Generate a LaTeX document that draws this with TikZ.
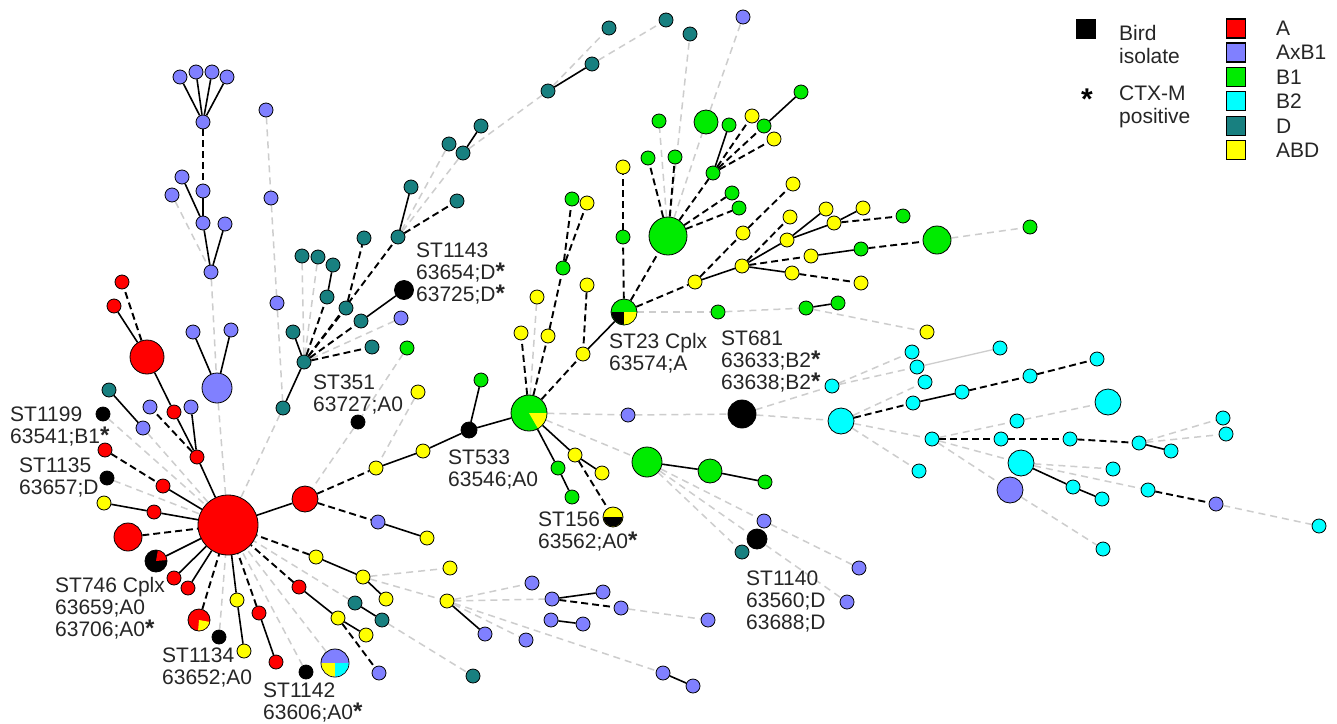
\documentclass[tikz,border=0pt]{standalone}
\usepackage{fontspec}
\setmainfont{Liberation Sans}
\usetikzlibrary{backgrounds}

\definecolor{cA}{RGB}{255,0,0}
\definecolor{cAB}{RGB}{128,128,255}
\definecolor{cBone}{RGB}{0,235,0}
\definecolor{cBtwo}{RGB}{0,255,255}
\definecolor{cD}{RGB}{24,128,128}
\definecolor{cY}{RGB}{255,255,0}
\definecolor{edgegray}{RGB}{205,205,205}

\newcommand{\ctxmark}{\smash{\fontsize{24}{20}\selectfont\bfseries *}}
% filled wedge inside a pie node: colour, node, start, end, radius
\newcommand{\pieslice}[5]{\fill[#1] (#2.center) -- ++(#3:#5) arc[start angle=#3, end angle=#4, radius=#5] -- cycle;}

\tikzset{
  st/.style={circle, draw=black, line width=0.8pt, inner sep=0pt, minimum size=14pt},
  nA/.style={st, fill=cA},
  nAB/.style={st, fill=cAB},
  nBo/.style={st, fill=cBone},
  nBt/.style={st, fill=cBtwo},
  nD/.style={st, fill=cD},
  nY/.style={st, fill=cY},
  nK/.style={st, fill=black},
  sl/.style={line width=1.6pt, black},
  dl/.style={line width=1.9pt, black, dash pattern=on 7pt off 4pt},
  gl/.style={line width=1.5pt, edgegray, dash pattern=on 7pt off 5pt},
  gsl/.style={line width=1.3pt, edgegray},
  lbl/.style={anchor=north west, inner sep=0pt, align=left, text=black!85,
              font=\fontsize{21}{22}\selectfont},
  legsq/.style={draw=black, line width=1.2pt, inner sep=0pt, minimum size=19pt},
  legtx/.style={anchor=west, inner sep=0pt, text=black!85, font=\fontsize{21}{23}\selectfont},
}

\begin{document}
\begin{tikzpicture}[x=1pt, y=-1pt]
\useasboundingbox (0,0) rectangle (1337,723);

% ---------------- AxB1 branch (upper left)
\node[nAB] (a1) at (180,77) {};
\node[nAB] (a2) at (196,72) {};
\node[nAB] (a3) at (212,72) {};
\node[nAB] (a4) at (227,77) {};
\node[nAB] (a5) at (203,122) {};
\node[nAB] (a6) at (203,191) {};
\node[nAB] (a7) at (182,177) {};
\node[nAB] (a8) at (172,195) {};
\node[nAB] (a9) at (203,223) {};
\node[nAB] (a10) at (225,224) {};
\node[nAB] (a11) at (211,272) {};
\node[nAB, minimum size=30pt] (a12) at (217,388) {};
\node[nAB] (a13) at (193,332) {};
\node[nAB] (a14) at (231,330) {};
\node[nAB] (a15) at (266,110) {};
\node[nAB] (a16) at (271,198) {};
\node[nAB] (a17) at (277,303) {};

% ---------------- A cluster round the main hub
\node[nA] (r1) at (122,282) {};
\node[nA] (r2) at (114,306) {};
\node[nA, minimum size=34pt] (r3) at (147,357) {};
\node[nA] (r4) at (174,412) {};
\node[nA] (r5) at (197,457) {};
\node[nAB] (a18) at (150,407) {};
\node[nAB] (a19) at (191,407) {};
\node[nD] (t1) at (109,390) {};
\node[nAB] (a20) at (143,428) {};
\node[nK] (k1) at (103,414) {};
\node[nA] (r6) at (105,450) {};
\node[nK] (k2) at (107,478) {};
\node[nA] (r7) at (163,486) {};
\node[nY] (y1) at (104,503) {};
\node[nA] (r8) at (154,512) {};
\node[nA, minimum size=60pt] (H) at (228,525) {};
\node[nA, minimum size=28pt] (r9) at (128,537) {};
\node[nK, minimum size=22pt] (p746) at (156,561) {};
\node[nA] (r10) at (174,578) {};
\node[nA] (r11) at (188,588) {};
\node[nA, minimum size=22pt] (pRY) at (199,620) {};
\node[nK] (k3) at (219,637) {};
\node[nY] (y2) at (237,600) {};
\node[nY] (y3) at (244,651) {};
\node[nA] (r12) at (259,613) {};
\node[nA] (r13) at (276,662) {};
\node[nK] (k4) at (306,672) {};
\node[nAB, minimum size=28pt] (pAYC) at (335,663) {};
\node[nA, minimum size=26pt] (r14) at (305,499) {};
\node[nY] (y4) at (316,557) {};
\node[nA] (r15) at (299,587) {};
\node[nY] (y5) at (338,618) {};
\node[nY] (y6) at (366,635) {};
\node[nAB] (a21) at (379,673) {};
\node[nD] (t2) at (355,603) {};
\node[nD] (t3) at (382,620) {};
\node[nY] (y7) at (363,577) {};
\node[nY] (y8) at (386,599) {};
\node[nAB] (a22) at (378,522) {};
\node[nY] (y9) at (427,538) {};
\node[nY] (y10) at (450,568) {};
\node[nY] (y11) at (447,601) {};
\node[nAB] (a23) at (485,634) {};
\node[nD] (t4) at (473,676) {};
\node[nAB] (a24) at (532,583) {};
\node[nAB] (a25) at (552,599) {};
\node[nAB] (a26) at (603,592) {};
\node[nAB] (a27) at (621,608) {};
\node[nAB] (a28) at (551,620) {};
\node[nAB] (a29) at (583,624) {};
\node[nAB] (a30) at (526,640) {};
\node[nAB] (a31) at (663,673) {};
\node[nAB] (a32) at (693,686) {};
\node[nAB] (a33) at (708,620) {};

% ---------------- D cluster
\node[nD] (t5) at (283,408) {};
\node[nD] (th) at (304,362) {};
\node[nD] (t6) at (293,332) {};
\node[nD] (t7) at (302,256) {};
\node[nD] (t8) at (318,257) {};
\node[nD] (t9) at (333,265) {};
\node[nD] (t10) at (327,297) {};
\node[nD] (t11) at (346,308) {};
\node[nD] (t12) at (361,321) {};
\node[nD] (t13) at (372,347) {};
\node[nK, minimum size=19pt] (k5) at (404,290) {};
\node[nAB] (a34) at (401,318) {};
\node[nD] (t14) at (364,238) {};
\node[nD] (t15) at (398,237) {};
\node[nD] (t16) at (411,187) {};
\node[nD] (t17) at (457,201) {};
\node[nD] (t18) at (449,144) {};
\node[nD] (t19) at (463,153) {};
\node[nD] (t20) at (481,126) {};
\node[nD] (t21) at (548,91) {};
\node[nD] (t22) at (592,64) {};
\node[nD] (t23) at (609,28) {};
\node[nD] (t24) at (666,20) {};
\node[nD] (t25) at (690,34) {};
\node[nAB] (a36) at (743,17) {};

% ---------------- centre: ST533 / B1 hub
\node[nBo] (g1) at (407,348) {};
\node[nY] (y12) at (418,392) {};
\node[nK] (k6) at (358,422) {};
\node[nBo] (g2) at (481,380) {};
\node[nK, minimum size=16pt] (k7) at (469,430) {};
\node[nY] (y13) at (423,451) {};
\node[nY] (y14) at (376,468) {};
\node[nBo, minimum size=36pt] (GH) at (529,413) {};
\node[nY] (y15) at (537,297) {};
\node[nBo] (g3) at (563,268) {};
\node[nY] (y16) at (587,285) {};
\node[nY] (y17) at (521,333) {};
\node[nY] (y18) at (548,336) {};
\node[nY] (y19) at (583,354) {};
\node[nBo] (g4) at (572,199) {};
\node[nY] (y20) at (587,203) {};
\node[nBo, minimum size=26pt] (p23) at (624,312) {};
\node[nBo] (g5) at (623,237) {};
\node[nY] (y21) at (623,167) {};
\node[nAB] (a35) at (628,415) {};
\node[nBo, minimum size=30pt] (g6) at (647,462) {};
\node[nY] (y22) at (575,455) {};
\node[nY] (y23) at (602,473) {};
\node[nBo] (g7) at (558,468) {};
\node[nBo] (g8) at (572,497) {};
\node[nY, minimum size=20pt] (p156) at (613,517) {};

% ---------------- B1 / ABD (upper right)
\node[nBo, minimum size=38pt] (BG) at (668,236) {};
\node[nBo] (g9) at (659,121) {};
\node[nBo] (g10) at (648,158) {};
\node[nBo] (g11) at (675,157) {};
\node[nBo, minimum size=24pt] (g12) at (706,122) {};
\node[nBo] (g13) at (713,173) {};
\node[nBo] (g14) at (729,125) {};
\node[nY] (y24) at (752,116) {};
\node[nBo] (g15) at (764,126) {};
\node[nBo] (g16) at (801,92) {};
\node[nY] (y25) at (774,139) {};
\node[nBo] (g17) at (732,193) {};
\node[nBo] (g18) at (739,208) {};
\node[nY] (y26) at (793,184) {};
\node[nY] (y27) at (743,233) {};
\node[nY] (y28) at (695,282) {};
\node[nY] (y29) at (742,266) {};
\node[nY] (y30) at (790,217) {};
\node[nY] (y31) at (787,240) {};
\node[nY] (y32) at (826,209) {};
\node[nY] (y33) at (834,223) {};
\node[nY] (y34) at (863,208) {};
\node[nBo] (g19) at (903,216) {};
\node[nY] (y35) at (811,256) {};
\node[nBo] (g20) at (861,249) {};
\node[nBo, minimum size=28pt] (g21) at (937,240) {};
\node[nBo] (g22) at (1030,227) {};
\node[nY] (y36) at (792,273) {};
\node[nY] (y37) at (861,283) {};
\node[nBo] (g23) at (718,312) {};
\node[nBo] (g24) at (806,308) {};
\node[nBo] (g25) at (838,303) {};
\node[nY] (y38) at (927,332) {};

% ---------------- B2 cluster (right)
\node[nK, minimum size=28pt] (k8) at (742,414) {};
\node[nBt] (c1) at (832,386) {};
\node[nBt] (c2) at (912,352) {};
\node[nBt] (c3) at (917,367) {};
\node[nBt] (c4) at (925,382) {};
\node[nBt] (c5) at (1000,348) {};
\node[nBt, minimum size=26pt] (C1) at (841,421) {};
\node[nBt] (c6) at (913,403) {};
\node[nBt] (c7) at (962,392) {};
\node[nBt] (c8) at (1030,376) {};
\node[nBt] (c9) at (1097,359) {};
\node[nBt, minimum size=26pt] (C2) at (1108,402) {};
\node[nBt] (c10) at (1017,421) {};
\node[nBt] (c11) at (932,439) {};
\node[nBt] (c12) at (1001,439) {};
\node[nBt] (c13) at (1070,439) {};
\node[nBt] (c14) at (1139,443) {};
\node[nBt] (c15) at (1171,451) {};
\node[nBt] (c16) at (1223,418) {};
\node[nBt] (c17) at (1226,434) {};
\node[nBt] (c18) at (919,471) {};
\node[nBt, minimum size=26pt] (C3) at (1021,463) {};
\node[nBt] (c19) at (1113,469) {};
\node[nBt] (c20) at (1073,487) {};
\node[nBt] (c21) at (1102,499) {};
\node[nBt] (c22) at (1148,490) {};
\node[nAB] (a37) at (1216,504) {};
\node[nBt] (c23) at (1319,526) {};
\node[nAB, minimum size=26pt] (A2) at (1010,490) {};
\node[nBt] (c24) at (1103,549) {};
\node[nBo, minimum size=24pt] (g26) at (710,471) {};
\node[nBo] (g27) at (765,482) {};
\node[nAB] (a38) at (764,521) {};
\node[nK, minimum size=20pt] (k9) at (757,539) {};
\node[nD] (t27) at (742,552) {};
\node[nAB] (a39) at (859,568) {};
\node[nAB] (a40) at (847,602) {};

% ---------------- wedges of the mixed nodes
\pieslice{cA}{p746}{5}{80}{10.5pt}
\pieslice{cY}{pRY}{-95}{-10}{10.5pt}
\pieslice{cY}{pAYC}{180}{270}{13.5pt}
\pieslice{cBtwo}{pAYC}{270}{360}{13.5pt}
\pieslice{black}{p23}{180}{270}{12.5pt}
\pieslice{cY}{p23}{270}{360}{12.5pt}
\pieslice{cY}{GH}{-60}{0}{17.5pt}
\pieslice{black}{p156}{180}{360}{9.5pt}

% ---------------- connectors
\begin{pgfonlayer}{background}
\fill[white] (0,0) rectangle (1337,723);
% light grey dashed links
\foreach \u/\v in {a8/a11, a11/a12, a12/H, a15/a16, a16/a17, a17/t5, a20/H, k1/H, k2/H,
  k3/H, k4/H, pAYC/H, t2/H, t5/H, y7/y10, y7/y11, t3/t4, y11/a24, y11/a25, y11/a30,
  y11/a31, a27/a33, k6/r14, y12/y14, g1/k6, a34/th, t7/th, t8/th, t15/t18, t15/t19,
  t19/t21, t21/t23, t22/t24, GH/y15, GH/a35, a35/k8, GH/g6, g6/a38, g6/k9, g6/t27,
  a38/a39, k9/a40, k8/C1, k8/c1, c1/c2, c1/c3, C1/c11, C1/c18, C1/c4, c11/c10, c10/C2,
  c11/C3, c11/A2, C3/c19, C3/c22, A2/c24, a37/c23, c14/c16, c14/c17, p23/g23, g23/g24,
  g24/y38, g21/g22, BG/g9, BG/g12, g12/a36, BG/t25}
  \draw[gl] (\u) -- (\v);
\draw[gsl] (c3) -- (c5);
% black dashed links
\foreach \u/\v in {a5/a6, r3/r1, r5/a18, r6/r7, r9/H, pRY/H, r12/H, y4/H, r15/H,
  r14/a22, r14/y14, y5/a21, a25/a27, th/t10, th/t11, th/t12, th/t13, t11/t14, th/t15,
  t15/t17, GH/y17, GH/y18, y18/g3, g3/g4, g3/y20, GH/y19, y16/y19, p23/g5, g5/y21,
  p23/BG, p23/y28, y22/p156, BG/g10, BG/g11, BG/g13, BG/g17, BG/g18, g13/y24, g13/g15,
  g13/y25, y28/y27, y27/y26, y29/y30, y29/y35, y36/y37, y33/g19, g20/g21, C1/c6,
  c7/c8, c8/c9, c11/c12, c12/c13, c13/c14, c22/a37}
  \draw[dl] (\u) -- (\v);
% solid links
\foreach \u/\v in {a5/a1, a5/a2, a5/a3, a5/a4, a6/a9, a7/a9, a9/a11, a10/a11, a12/a13,
  a12/a14, r5/H, r5/r4, r4/r3, r3/r2, r5/a19, t1/a20, r7/H, y1/r8, r8/H, p746/H, r10/H,
  r11/H, H/y2, y2/y3, r12/r13, H/r14, y4/y7, r15/y5, y5/y6, t2/t3, y7/y8, a22/y9,
  y11/a23, a25/a26, a28/a29, a31/a32, th/t6, th/t5, t10/t9, t12/k5, t15/t16, t19/t20,
  t21/t22, y14/y13, y13/k7, k7/GH, k7/g2, y19/p23, GH/g7, g7/g8, GH/y22, y22/y23,
  g6/g26, g26/g27, g13/g14, g15/g16, y28/y29, y29/y31, y29/y36, y31/y32, y31/y33,
  y33/y34, y35/g20, g24/g25, c6/c7, c14/c15, C3/c20, c20/c21}
  \draw[sl] (\u) -- (\v);
\end{pgfonlayer}

% ---------------- labels
\node[lbl] (l1199) at (10,407) {ST1199\\63541;B1\ctxmark};
\node[lbl] (l1135) at (19,458) {ST1135\\63657;D};
\node[lbl] (l746) at (55,577) {ST746 Cplx\\63659;A0\\63706;A0\ctxmark};
\node[lbl] (l1134) at (162,648) {ST1134\\63652;A0};
\node[lbl] (l1142) at (263,683) {ST1142\\63606;A0\ctxmark};
\node[lbl] (l351) at (313,375) {ST351\\63727;A0};
\node[lbl] (l1143) at (416,243) {ST1143\\63654;D\ctxmark\\63725;D\ctxmark};
\node[lbl] (l533) at (448,450) {ST533\\63546;A0};
\node[lbl] (l23) at (609,333) {ST23 Cplx\\63574;A};
\node[lbl] (l681) at (721,331) {ST681\\63633;B2\ctxmark\\63638;B2\ctxmark};
\node[lbl] (l156) at (538,512) {ST156\\63562;A0\ctxmark};
\node[lbl] (l1140) at (746,571) {ST1140\\63560;D\\63688;D};

% ---------------- legend
\node[legsq, fill=black] (qbird) at (1086,29) {};
\node[lbl, font=\fontsize{21}{23}\selectfont] (tbird) at (1119,25) {Bird\\isolate};
\node[inner sep=0pt, font=\fontsize{30}{30}\selectfont\bfseries] (qctx) at (1087,99) {*};
\node[lbl, font=\fontsize{21}{23}\selectfont] (tctx) at (1119,86) {CTX-M\\positive};
\node[legsq, fill=cA] (qA) at (1236,28.5) {};
\node[legsq, fill=cAB] (qAB) at (1236,52.5) {};
\node[legsq, fill=cBone] (qBo) at (1236,77) {};
\node[legsq, fill=cBtwo] (qBt) at (1236,101) {};
\node[legsq, fill=cD] (qD) at (1236,126) {};
\node[legsq, fill=cY] (qY) at (1236,150) {};
\node[legtx] (tA) at (1276,28.5) {A};
\node[legtx] (tAB) at (1276,52.5) {AxB1};
\node[legtx] (tBo) at (1276,77) {B1};
\node[legtx] (tBt) at (1276,101) {B2};
\node[legtx] (tD) at (1276,126) {D};
\node[legtx] (tY) at (1276,150) {ABD};
\end{tikzpicture}
\end{document}
